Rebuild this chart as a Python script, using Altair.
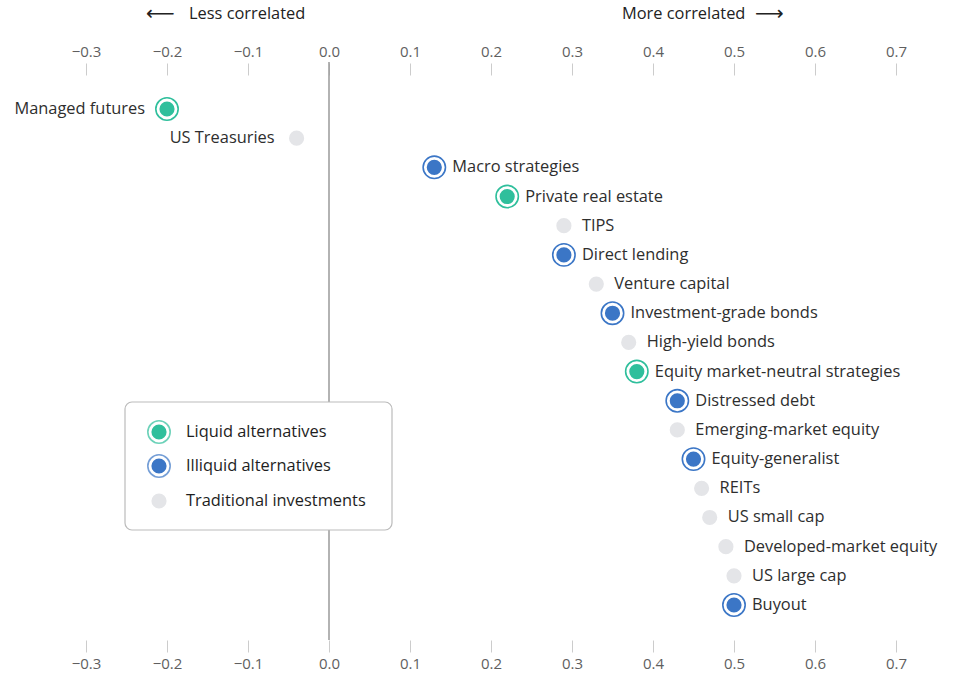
import altair as alt
import pandas as pd

names = ["Managed futures", "US Treasuries", "Macro strategies", "Private real estate", "TIPS",
         "Direct lending", "Venture capital", "Investment-grade bonds", "High-yield bonds",
         "Equity market-neutral strategies", "Distressed debt", "Emerging-market equity",
         "Equity-generalist", "REITs", "US small cap", "Developed-market equity",
         "US large cap", "Buyout"]
values = [-0.20, -0.04, 0.13, 0.22, 0.29, 0.29, 0.33, 0.35, 0.37, 0.38, 0.43, 0.43,
          0.45, 0.46, 0.47, 0.49, 0.50, 0.50]
groups = ["Liquid alternatives", "Traditional investments", "Illiquid alternatives",
          "Liquid alternatives", "Traditional investments", "Illiquid alternatives",
          "Traditional investments", "Illiquid alternatives", "Traditional investments",
          "Liquid alternatives", "Illiquid alternatives", "Traditional investments",
          "Illiquid alternatives", "Traditional investments", "Traditional investments",
          "Traditional investments", "Traditional investments", "Illiquid alternatives"]
label_side = ["left", "left"] + ["right"] * 16
tick_values = [-0.3, -0.2, -0.1, 0.0, 0.1, 0.2, 0.3, 0.4, 0.5, 0.6, 0.7]
legend_labels = ["Liquid alternatives", "Illiquid alternatives", "Traditional investments"]
group_colors = ["#2fbf9c", "#3b76c6", "#e4e5e8"]

df = pd.DataFrame({"name": names, "value": values, "group": groups, "side": label_side})

FONT = "Open Sans"
xscale = alt.Scale(domain=[-0.40617, 0.79753], nice=False, zero=False)
yscale = alt.Scale(domain=names, range=[34, 530], padding=0)
cscale = alt.Scale(domain=legend_labels, range=group_colors)

axis_common = dict(values=tick_values, format=".1f", domain=False, grid=False,
                   tickColor="#cccccc", tickSize=12, tickWidth=1,
                   labelColor="#5f5f5f", labelFontSize=15, labelFont=FONT,
                   labelPadding=4, title=None)

base = alt.Chart(df)

x_none = alt.X("value:Q", scale=xscale, axis=None)
y_enc = alt.Y("name:N", scale=yscale, axis=None)

rule = alt.Chart(pd.DataFrame({"v": [0.0]})).mark_rule(color="#9a9a9a", strokeWidth=1.5).encode(
    x=alt.X("v:Q", scale=xscale, axis=None),
    y=alt.value(-13), y2=alt.value(565))

alts = base.transform_filter("datum.group != 'Traditional investments'")

rings = alts.mark_point(shape="circle", filled=False, size=500, strokeWidth=1.6, opacity=1).encode(
    x=alt.X("value:Q", scale=xscale, axis=alt.Axis(orient="top", **axis_common)),
    y=y_enc,
    color=alt.Color("group:N", scale=cscale, legend=None))

inner = base.mark_circle(size=230, opacity=1).encode(
    x=alt.X("value:Q", scale=xscale, axis=alt.Axis(orient="bottom", **axis_common)),
    y=y_enc,
    color=alt.Color("group:N", scale=cscale, legend=None))

text_right = base.transform_filter("datum.side == 'right'").mark_text(
    align="left", baseline="middle", dx=18, fontSize=16.4, font=FONT, color="#2e2e2e").encode(
    x=x_none, y=y_enc, text="name:N")

text_left = base.transform_filter("datum.side == 'left'").mark_text(
    align="right", baseline="middle", dx=-22, fontSize=16.4, font=FONT, color="#2e2e2e").encode(
    x=x_none, y=y_enc, text="name:N")

one = pd.DataFrame({"k": [0]})

legend_box = alt.Chart(one).mark_rect(fill="white", stroke="#bbbbbb", strokeWidth=1.2,
                                      cornerRadius=7).encode(
    x=alt.value(125), x2=alt.value(392), y=alt.value(327), y2=alt.value(455))

legend_layers = [legend_box]
leg_y = [357, 391, 426]
for i, lab in enumerate(legend_labels):
    d = pd.DataFrame({"label": [lab]})
    if i < 2:
        legend_layers.append(alt.Chart(d).mark_point(shape="circle", filled=False, size=500,
                                                     strokeWidth=1.6, color=group_colors[i]).encode(
            x=alt.value(159), y=alt.value(leg_y[i])))
    legend_layers.append(alt.Chart(d).mark_circle(size=230, opacity=1, color=group_colors[i]).encode(
        x=alt.value(159), y=alt.value(leg_y[i])))
    legend_layers.append(alt.Chart(d).mark_text(align="left", baseline="middle", fontSize=16.4,
                                                font=FONT, color="#1e1e1e", fontWeight=500).encode(
        x=alt.value(186), y=alt.value(leg_y[i]), text="label:N"))

hdr_less = alt.Chart(pd.DataFrame({"t": ["Less correlated"]})).mark_text(
    align="left", baseline="middle", fontSize=16.4, font=FONT, color="#222222").encode(
    x=alt.value(189), y=alt.value(-61), text="t:N")
hdr_more = alt.Chart(pd.DataFrame({"t": ["More correlated"]})).mark_text(
    align="left", baseline="middle", fontSize=16.4, font=FONT, color="#222222").encode(
    x=alt.value(622), y=alt.value(-61), text="t:N")
arr_left = alt.Chart(pd.DataFrame({"t": ["⟵"]})).mark_text(
    align="left", baseline="middle", fontSize=20, font="DejaVu Sans", color="#222222").encode(
    x=alt.value(146), y=alt.value(-61), text="t:N")
arr_right = alt.Chart(pd.DataFrame({"t": ["⟶"]})).mark_text(
    align="left", baseline="middle", fontSize=20, font="DejaVu Sans", color="#222222").encode(
    x=alt.value(755), y=alt.value(-61), text="t:N")

chart = alt.layer(
    rule, rings, inner, text_right, text_left, *legend_layers,
    hdr_less, hdr_more, arr_left, arr_right
).resolve_axis(x="independent").properties(
    width=975, height=565,
    padding={"left": 0, "right": 0, "top": 75, "bottom": 50},
    autosize=alt.AutoSizeParams(type="none"),
    background="white"
).configure_view(stroke=None)

chart.save("out.html", embed_options={"renderer": "svg", "actions": False})
